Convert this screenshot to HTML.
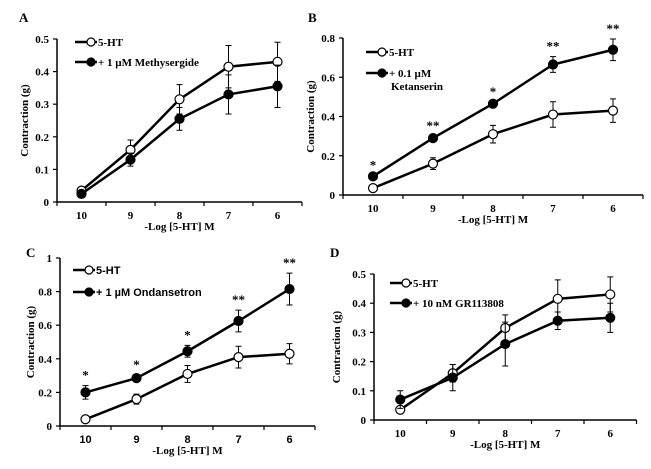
<!DOCTYPE html>
<html><head><meta charset="utf-8"><style>
body{margin:0;background:#fff;width:651px;height:469px;overflow:hidden}
svg{display:block}
text{font-family:"Liberation Serif",serif;font-weight:bold;fill:#000}
</style></head><body>
<svg id="fig" width="651" height="469"></svg>
<script>
const categories=["10","9","8","7","6"];
const aCtrl=[0.035,0.16,0.315,0.415,0.43], aCtrlErr=[0.005,0.03,0.045,0.065,0.06];
const aDrug=[0.025,0.13,0.255,0.33,0.355], aDrugErr=[0.005,0.02,0.035,0.06,0.065];
const aTicks=["0","0.1","0.2","0.3","0.4","0.5"];
const bCtrl=[0.035,0.16,0.31,0.41,0.43], bCtrlErr=[0.005,0.03,0.045,0.065,0.06];
const bDrug=[0.095,0.29,0.465,0.665,0.74], bDrugErr=[0.005,0.01,0.01,0.04,0.055];
const bStars=["*","**","*","**","**"];
const bTicks=["0","0.2","0.4","0.6","0.8"];
const cCtrl=[0.04,0.16,0.31,0.41,0.43], cCtrlErr=[0.005,0.03,0.05,0.065,0.06];
const cDrug=[0.2,0.285,0.445,0.625,0.815], cDrugErr=[0.04,0.02,0.035,0.065,0.095];
const cStars=["*","*","*","**","**"];
const cTicks=["0","0.2","0.4","0.6","0.8","1"];
const dCtrl=[0.035,0.16,0.315,0.415,0.43], dCtrlErr=[0.005,0.03,0.045,0.065,0.06];
const dDrug=[0.07,0.145,0.26,0.34,0.35], dDrugErr=[0.03,0.045,0.075,0.03,0.05];
const dTicks=["0","0.1","0.2","0.3","0.4","0.5"];

const NS="http://www.w3.org/2000/svg";
const svg=document.getElementById('fig');
function el(t,a,p){const e=document.createElementNS(NS,t);for(const k in a)e.setAttribute(k,a[k]);(p||svg).appendChild(e);return e;}

function panel(o){
  const g=el('g',{});
  
  
  const ymax=parseFloat(o.ticks[o.ticks.length-1]);
  const Y=v=>o.y0-(v/ymax)*(o.y0-o.y1);
  const X=i=>o.x0+o.step*(i+0.5);
  const xEnd=o.x0+o.step*categories.length;
  const sansStyle=o.sans?'font-family:"Liberation Sans",sans-serif':'';
  const L=el('text',{x:o.lx,y:o.ly,'font-size':13},g);L.textContent=o.letter;
  
  
  const ax=el('path',{d:`M${o.x0},${o.y1}V${o.y0}H${xEnd}`,stroke:'#000','stroke-width':1.5,fill:'none'},g);
  
  
  o.ticks.forEach(t=>{const y=Y(parseFloat(t));
    el('line',{x1:o.x0-4,x2:o.x0,y1:y,y2:y,stroke:'#000','stroke-width':1.2},g);
    const tx=el('text',{x:o.x0-8,y:y+4,'font-size':11,'text-anchor':'end'},g);tx.textContent=t;
    
    });
  for(let i=0;i<=categories.length;i++){const x=o.x0+o.step*i;el('line',{x1:x,x2:x,y1:o.y0,y2:o.y0+4,stroke:'#000','stroke-width':1.2},g);}
  categories.forEach((c,i)=>{const tx=el('text',{x:X(i),y:o.y0+17,'font-size':11,'text-anchor':'middle',style:sansStyle},g);tx.textContent=c;
    
    });
  const xt=el('text',{x:(o.x0+xEnd)/2,y:o.y0+28,'font-size':11,'text-anchor':'middle'},g);xt.textContent='-Log [5-HT] M';
  
  
  const yt=el('text',{x:0,y:0,'font-size':11,'text-anchor':'middle',transform:`translate(${o.ytx},${(o.y0+o.y1)/2}) rotate(-90)`},g);yt.textContent='Contraction (g)';
  
  
  [[o.ctrl,o.ctrlErr,'#fff','control'],[o.drug,o.drugErr,'#000','drug']].forEach(([v,e,f,nm])=>{
    const sg=el('g',{},g);
    
    
    v.forEach((d,i)=>{const x=X(i);
      el('path',{d:`M${x},${Y(d-e[i])}V${Y(d+e[i])}M${x-3},${Y(d+e[i])}H${x+3}M${x-3},${Y(d-e[i])}H${x+3}`,stroke:'#000','stroke-width':1},sg);});
    el('polyline',{points:v.map((d,i)=>X(i)+','+Y(d)).join(' '),fill:'none',stroke:'#000','stroke-width':2.5},sg);
    v.forEach((d,i)=>{const c=el('circle',{cx:X(i),cy:Y(d),r:4.5,fill:f,stroke:'#000','stroke-width':1.2},sg);
      
      });
  });
  if(o.stars){o.stars.forEach((s,i)=>{const t=el('text',{x:X(i),y:Y(o.drug[i]+o.drugErr[i])-6,'font-size':13,'text-anchor':'middle','font-weight':'normal'},g);t.textContent=s;
    
    });}
  o.legend.forEach((lg,k)=>{const y=o.legY[k];
    const lgg=el('g',{},g);
    
    
    el('line',{x1:o.legX,x2:o.legX+22,y1:y,y2:y,stroke:'#000','stroke-width':2.5},lgg);
    el('circle',{cx:o.legX+16,cy:y,r:4,fill:k?'#000':'#fff',stroke:'#000','stroke-width':1.2},lgg);
    lg.split('|').forEach((ln,j)=>{const t=el('text',{x:o.legX+23+(j?2:0),y:y+4+j*13,'font-size':11,style:sansStyle},lgg);t.textContent=ln;});
  });
}
panel({letter:'A',lx:19,ly:22,x0:57,step:49,y0:202,y1:39,ticks:aTicks,ytx:28,ctrl:aCtrl,ctrlErr:aCtrlErr,drug:aDrug,drugErr:aDrugErr,legend:['5-HT','+ 1 µM Methysergide'],legX:75,legY:[42,62]});
panel({letter:'B',lx:308,ly:22,x0:343,step:60,y0:195,y1:38,ticks:bTicks,ytx:314,ctrl:bCtrl,ctrlErr:bCtrlErr,drug:bDrug,drugErr:bDrugErr,stars:bStars,legend:['5-HT','+ 0.1 µM|Ketanserin'],legX:366,legY:[52,73]});
panel({letter:'C',lx:26,ly:257,x0:60,step:51,y0:426,y1:258,ticks:cTicks,ytx:34,ctrl:cCtrl,ctrlErr:cCtrlErr,drug:cDrug,drugErr:cDrugErr,stars:cStars,legend:['5-HT','+ 1 µM Ondansetron'],legX:73,legY:[270,292],sans:true});
panel({letter:'D',lx:330,ly:257,x0:374,step:52.5,y0:420,y1:274,ticks:dTicks,ytx:340,ctrl:dCtrl,ctrlErr:dCtrlErr,drug:dDrug,drugErr:dDrugErr,legend:['5-HT','+ 10 nM GR113808'],legX:390,legY:[283,303]});
</script>
</body></html>
